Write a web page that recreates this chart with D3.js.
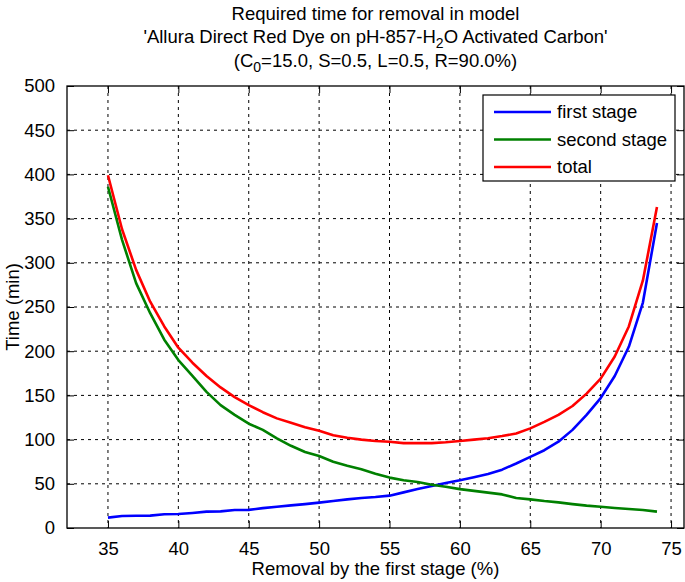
<!DOCTYPE html>
<html><head><meta charset="utf-8">
<script src="https://cdnjs.cloudflare.com/ajax/libs/d3/7.8.5/d3.min.js"></script>
<style>
body{margin:0;background:#fff;}
text{font-family:"Liberation Sans",Arial,Helvetica,sans-serif;fill:#000;}
</style></head>
<body><svg id="c" width="685" height="582"></svg>
<script>
const removal = [35,36,37,38,39,40,41,42,43,44,45,46,47,48,49,50,51,52,53,54,55,56,57,58,59,60,61,62,63,64,65,66,67,68,69,70,71,72,73,74];
const firstStage = [11.7,13.5,13.8,14,15.5,15.8,17,18.5,18.8,20.3,20.5,22.5,24,25.6,27,28.7,30.5,32.4,34,35,36.6,40.3,44,47.5,51,54,57.5,61,66,73,80.5,88,97.6,111,128,147,172,205,255,345];
const secondStage = [386,326,277,243,213,190,172,154,139,128,118,111,101.5,93,86,81.4,75,70.5,66.4,61.5,57,54,52,49,46.7,44,42,40,38,34,32.4,30.5,29,27,25.3,24,22.6,21.5,20.4,18.5];
const total = [399,338,292,256,228,204,187,172,159,148,139,131,124,119,114,110,105,102,100,98.5,97.5,96,96,96,97,98.4,100,101.5,104,107,112.7,120,128,138,152,169,194,228,280,363];
const xTicks = [35,40,45,50,55,60,65,70,75];
const yTicks = [0,50,100,150,200,250,300,350,400,450,500];
const seriesNames = ["first stage","second stage","total"];
const seriesColors = ["#0000ff","#008000","#ff0000"];
const titleLine1 = "Required time for removal in model";
const xLabel = "Removal by the first stage (%)";
const yLabel = "Time (min)";

const FS = "18.5px";
const svg = d3.select("#c");
const L=67, R=684, T=86, B=528;
const x = d3.scaleLinear().domain([32.09,75.92]).range([L,R]);
const y = d3.scaleLinear().domain([0,500]).range([B,T]);

// grid
const g = svg.append("g");
g.selectAll(".gx").data(xTicks).enter().append("line")
 .attr("x1",d=>x(d)).attr("x2",d=>x(d)).attr("y1",T).attr("y2",B)
 .attr("stroke","#000").attr("stroke-width",1).attr("stroke-dasharray","3,4");
g.selectAll(".gy").data(yTicks.slice(1,-1)).enter().append("line")
 .attr("y1",d=>y(d)).attr("y2",d=>y(d)).attr("x1",L).attr("x2",R)
 .attr("stroke","#000").attr("stroke-width",1).attr("stroke-dasharray","3,4");

// axes with inward ticks
const xAxis = d3.axisBottom(x).tickValues(xTicks).tickSizeInner(-7).tickSizeOuter(0).tickPadding(14);
const gx = svg.append("g").attr("transform",`translate(0,${B})`).call(xAxis);
gx.select(".domain").remove();
gx.selectAll("line").attr("stroke","#000");
gx.selectAll("text").style("font-size",FS).attr("dy","0.71em");
const gxt = svg.append("g").attr("transform",`translate(0,${T})`).call(d3.axisTop(x).tickValues(xTicks).tickSizeInner(-7).tickSizeOuter(0).tickFormat(""));
gxt.select(".domain").remove();
const yAxis = d3.axisLeft(y).tickValues(yTicks).tickSizeInner(-7).tickSizeOuter(0).tickPadding(12);
const gy = svg.append("g").attr("transform",`translate(${L},0)`).call(yAxis);
gy.select(".domain").remove();
gy.selectAll("text").style("font-size",FS);
const gyr = svg.append("g").attr("transform",`translate(${R},0)`).call(d3.axisRight(y).tickValues(yTicks).tickSizeInner(-7).tickSizeOuter(0).tickFormat(""));
gyr.select(".domain").remove();

// box
svg.append("rect").attr("x",L).attr("y",T).attr("width",R-L).attr("height",B-T)
 .attr("fill","none").attr("stroke","#000").attr("stroke-width",1.3);

// lines
const seriesData = [firstStage, secondStage, total];
const line = d3.line().x((d,i)=>x(removal[i])).y(d=>y(d));
seriesData.forEach((s,k)=>{
  svg.append("path").datum(s).attr("d",line).attr("fill","none")
   .attr("stroke",seriesColors[k]).attr("stroke-width",2.6).attr("stroke-linejoin","round");
});

// legend
const lg = svg.append("g");
lg.append("rect").attr("x",483).attr("y",95).attr("width",192).attr("height",86)
 .attr("fill","#fff").attr("stroke","#000").attr("stroke-width",1.2);
seriesNames.forEach((n,k)=>{
  const yy = 112 + k*27.5;
  lg.append("line").attr("x1",494).attr("x2",551).attr("y1",yy).attr("y2",yy)
    .attr("stroke",seriesColors[k]).attr("stroke-width",2.6);
  lg.append("text").attr("x",557).attr("y",yy).attr("dy","0.35em").style("font-size",FS).text(n);
});

// titles
const cx = (L+R)/2;
svg.append("text").attr("x",cx).attr("y",20).attr("text-anchor","middle").style("font-size",FS).text(titleLine1);
const t2 = svg.append("text").attr("x",cx).attr("y",43).attr("text-anchor","middle").style("font-size",FS);
t2.append("tspan").text("'Allura Direct Red Dye on pH-857-H");
t2.append("tspan").attr("dy",5).style("font-size","14px").text("2");
t2.append("tspan").attr("dy",-5).text("O Activated Carbon'");
const t3 = svg.append("text").attr("x",cx).attr("y",67).attr("text-anchor","middle").style("font-size",FS);
t3.append("tspan").text("(C");
t3.append("tspan").attr("dy",5).style("font-size","14px").text("0");
t3.append("tspan").attr("dy",-5).text("=15.0, S=0.5, L=0.5, R=90.0%)");

svg.append("text").attr("x",cx).attr("y",575).attr("text-anchor","middle").style("font-size",FS).text(xLabel);
svg.append("text").attr("transform",`translate(19,${(T+B)/2}) rotate(-90)`).attr("text-anchor","middle").style("font-size",FS).text(yLabel);
</script></body></html>
